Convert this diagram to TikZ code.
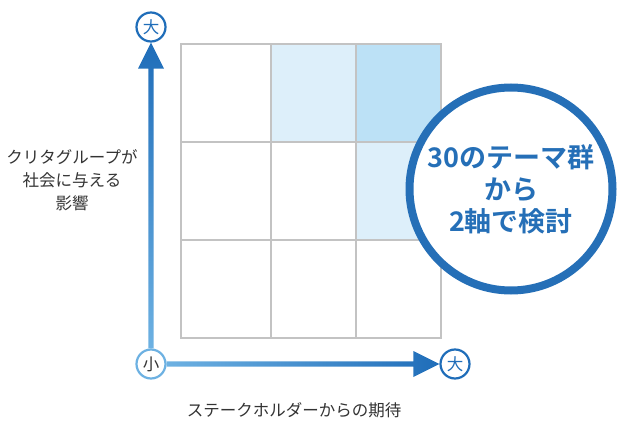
\documentclass[tikz,border=0pt]{standalone}
\usepackage{fontspec}
\setmainfont{Noto Sans CJK JP}
\newfontfamily\jpbold{Noto Sans CJK JP Bold}
\definecolor{axisdark}{HTML}{1F6DB9}
\definecolor{axislight}{HTML}{6DB1E2}
\definecolor{gridgray}{HTML}{C3C3C3}
\definecolor{celllight}{HTML}{DDEFFA}
\definecolor{cellmid}{HTML}{BCE1F6}
\definecolor{ringblue}{HTML}{256FB7}
\definecolor{labelgray}{HTML}{333333}
\tikzset{
  endmark/.style={circle, draw, line width=2.2pt, fill=white, minimum size=29pt, inner sep=0pt, font=\fontsize{16.5}{16.5}\selectfont},
  axislabel/.style={text=labelgray, align=center, font=\fontsize{16.5}{23}\selectfont}
}
\begin{document}
\begin{tikzpicture}[x=1pt,y=-1pt]
    \useasboundingbox (0,0) rectangle (619,422);
    % cells
    \fill [celllight] (271,44) rectangle (356,142);
    \fill [cellmid] (356,44) rectangle (441,142);
    \fill [celllight] (356,142) rectangle (441,240);
    \draw [gridgray, line width=2pt] (181,44) rectangle (441,338);
    \foreach \x in {271,356} \draw [gridgray, line width=2pt] (\x,44) -- (\x,338);
    \foreach \y in {142,240} \draw [gridgray, line width=2pt] (181,\y) -- (441,\y);
    % axes
    \node[endmark, draw=axislight, text=labelgray] (lo) at (151,364) {小};
    \node[endmark, draw=axisdark, text=axisdark] (hiy) at (151,27) {大};
    \node[endmark, draw=axisdark, text=axisdark] (hix) at (455,364) {大};
    \shade [top color=axisdark, bottom color=axislight]
        ([xshift=-2.6pt]lo.north) -- ([xshift=-2.6pt,yshift=-26pt]hiy.south) -- ([xshift=-13pt,yshift=-26pt]hiy.south)
        -- (hiy.south) -- ([xshift=13pt,yshift=-26pt]hiy.south) -- ([xshift=2.6pt,yshift=-26pt]hiy.south)
        -- ([xshift=2.6pt]lo.north) -- cycle;
    \shade [left color=axislight, right color=axisdark]
        ([yshift=-2.6pt]lo.east) -- ([xshift=-26pt,yshift=-2.6pt]hix.west) -- ([xshift=-26pt,yshift=-13pt]hix.west)
        -- (hix.west) -- ([xshift=-26pt,yshift=13pt]hix.west) -- ([xshift=-26pt,yshift=2.6pt]hix.west)
        -- ([yshift=2.6pt]lo.east) -- cycle;
    \node[axislabel] (impact) at (72,180) {クリタグループが\\社会に与える\\影響};
    \node[axislabel] (expect) at (294,410) {ステークホルダーからの期待};
    % big ring
    \node[circle, draw=ringblue, line width=8pt, fill=white, minimum size=203pt, inner sep=0pt,
          text=ringblue, align=center, font=\jpbold\fontsize{27}{32}\selectfont] (themes) at (511,189)
          {30のテーマ群\\から\\2軸で検討};
\end{tikzpicture}
\end{document}
